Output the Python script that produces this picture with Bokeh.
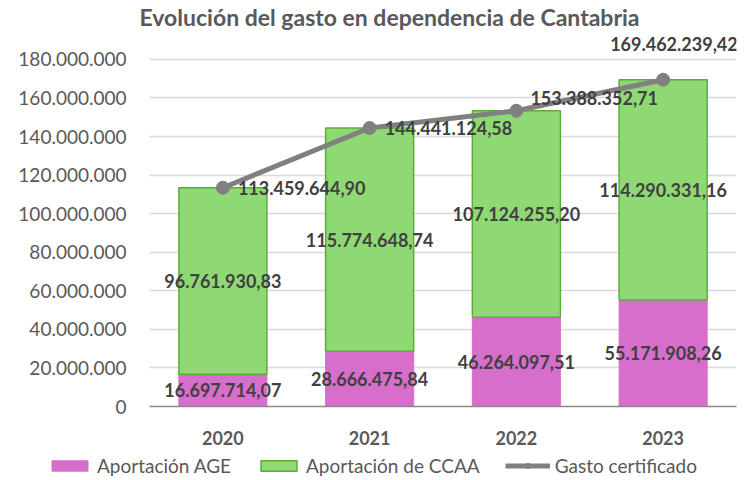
from bokeh.plotting import figure
from bokeh.models import ColumnDataSource, FixedTicker, Legend, LegendItem, FactorRange, Range1d
from bokeh.core.properties import value
from bokeh.embed import file_html
from bokeh.resources import INLINE

years = ["2020", "2021", "2022", "2023"]
age = [16697714.07, 28666475.84, 46264097.51, 55171908.26]
ccaa = [96761930.83, 115774648.74, 107124255.20, 114290331.16]
total = [113459644.90, 144441124.58, 153388352.71, 169462239.42]
y_ticks = [0, 20000000, 40000000, 60000000, 80000000, 100000000, 120000000, 140000000, 160000000, 180000000]
y_tick_labels = ["0", "20.000.000", "40.000.000", "60.000.000", "80.000.000", "100.000.000",
                 "120.000.000", "140.000.000", "160.000.000", "180.000.000"]
series_names = ["Aportación AGE", "Aportación de CCAA", "Gasto certificado"]

# label offsets for the line labels (style)
line_lbl_dx = [15, 15, 14, -53]
line_lbl_dy = [0, 0, -13, -36]


def fmt(v):
    s = f"{v:,.2f}"
    return s.replace(",", "X").replace(".", ",").replace("X", ".")


FONT = "Lato"
PINK = "#D86ECC"
GREEN = "#8FD974"
GREEN_LINE = "#5AAE37"
GRAY = "#808080"
TXT = "#404040"
TXT2 = "#595959"

src = ColumnDataSource(dict(
    x=years, age=age, ccaa=ccaa, total=total,
    age_top=age,
    ccaa_bottom=age,
    ccaa_top=[a + c for a, c in zip(age, ccaa)],
    age_mid=[a / 2 for a in age],
    ccaa_mid=[a + c / 2 for a, c in zip(age, ccaa)],
    age_lbl=[fmt(v) for v in age],
    ccaa_lbl=[fmt(v) for v in ccaa],
    tot_lbl=[fmt(v) for v in total],
    dx=line_lbl_dx, dy=line_lbl_dy,
))


def draw_series(fig, visible=True):
    ra = fig.vbar(x="x", bottom=0, top="age_top", width=0.6, source=src,
                  fill_color=PINK, line_color=PINK, line_width=1, visible=visible)
    rc = fig.vbar(x="x", bottom="ccaa_bottom", top="ccaa_top", width=0.6, source=src,
                  fill_color=GREEN, line_color=GREEN_LINE, line_width=1.5, visible=visible)
    rl = fig.line(x="x", y="total", source=src, line_color=GRAY, line_width=5, visible=visible)
    rp = fig.scatter(x="x", y="total", source=src, size=13, fill_color=GRAY, line_color=GRAY,
                     visible=visible)
    return ra, rc, rl, rp


p = figure(width=748, height=452, x_range=FactorRange(*years), y_range=Range1d(0, 195000000),
           output_backend="svg", toolbar_location=None,
           min_border_left=149, min_border_right=12, min_border_top=30, min_border_bottom=46)

p.title.text = "Evolución del gasto en dependencia de Cantabria"
p.title.align = "left"
p.title.text_font = FONT
p.title.text_font_size = "23px"
p.title.text_font_style = "bold"
p.title.text_color = TXT2
p.title.standoff = 0
p.title.offset = -10

draw_series(p)

lbl_kw = dict(text_font=value(FONT), text_font_size="18px", text_font_style="bold",
              text_color=TXT, text_baseline="middle")
p.text(x="x", y="age_mid", text="age_lbl", source=src, text_align="center", **lbl_kw)
p.text(x="x", y="ccaa_mid", text="ccaa_lbl", source=src, text_align="center", **lbl_kw)
p.text(x="x", y="total", text="tot_lbl", source=src, text_align="left",
       x_offset="dx", y_offset="dy", **lbl_kw)

p.yaxis.ticker = FixedTicker(ticks=y_ticks)
p.yaxis.major_label_overrides = {t: l for t, l in zip(y_ticks, y_tick_labels)}
p.yaxis.axis_line_color = None
p.yaxis.major_tick_line_color = None
p.yaxis.minor_tick_line_color = None
p.yaxis.major_label_standoff = 17
p.yaxis.major_label_text_font = FONT
p.yaxis.major_label_text_font_size = "19px"
p.yaxis.major_label_text_color = TXT2

p.xaxis.axis_line_color = "#898989"
p.xaxis.axis_line_width = 1.5
p.xaxis.major_tick_line_color = None
p.xaxis.minor_tick_line_color = None
p.xaxis.major_label_standoff = 18
p.xaxis.major_label_text_font = FONT
p.xaxis.major_label_text_font_size = "18px"
p.xaxis.major_label_text_font_style = "bold"
p.xaxis.major_label_text_color = TXT2

p.xgrid.grid_line_color = None
p.ygrid.ticker = FixedTicker(ticks=y_ticks[1:])
p.ygrid.grid_line_color = "#D9D9D9"
p.ygrid.grid_line_width = 1.5
p.outline_line_color = None

# legend strip: a second canvas spanning the full width; its series are hidden (legend keys only)
leg = figure(width=748, height=26, x_range=FactorRange(*years), y_range=Range1d(-300000000, -290000000),
             output_backend="svg", toolbar_location=None,
             x_axis_type=None, y_axis_type=None, min_border=0)
leg.outline_line_color = None
leg.grid.visible = False
k_age, k_ccaa, k_line, k_pts = draw_series(leg, visible=False)

legend = Legend(items=[
    LegendItem(label=series_names[0], renderers=[k_age]),
    LegendItem(label=series_names[1], renderers=[k_ccaa]),
    LegendItem(label=series_names[2], renderers=[k_line, k_pts]),
], orientation="horizontal", location=(47, 1))
legend.glyph_width = 45
legend.glyph_height = 13
legend.label_standoff = 5
legend.spacing = 25
legend.padding = 0
legend.margin = 0
legend.border_line_color = None
legend.background_fill_alpha = 0
legend.inactive_fill_alpha = 0
legend.label_text_font = FONT
legend.label_text_font_size = "19px"
legend.label_text_color = TXT2
leg.add_layout(legend, "center")

open("out.html", "w").write(file_html([p, leg], INLINE))
